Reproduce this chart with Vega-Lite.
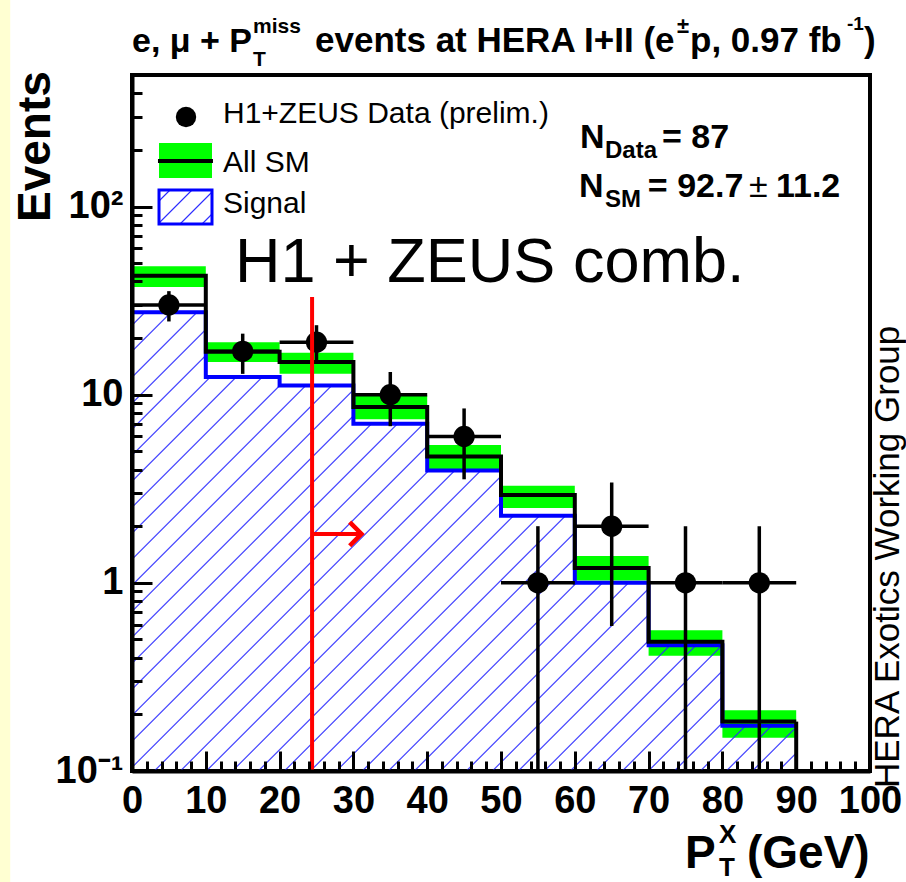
{
  "$schema": "https://vega.github.io/schema/vega-lite/v6.json",
  "width": 738,
  "height": 696,
  "autosize": {"type": "none"},
  "padding": {"left": 132, "top": 75, "right": 36, "bottom": 111},
  "background": "white",
  "config": {"view": {"stroke": "black", "strokeWidth": 4}, "font": "Liberation Sans"},
  "datasets": {
    "bins": [
      {"lo": 0, "hi": 10, "mid": 5, "data": 30, "dLo": 24.5, "dHi": 35.5, "sm": 42.8, "smLo": 37.3, "smHi": 48.2, "sig": 27.4},
      {"lo": 10, "hi": 20, "mid": 15, "data": 17, "dLo": 12.9, "dHi": 21.1, "sm": 16.9, "smLo": 14.9, "smHi": 19.0, "sig": 12.4},
      {"lo": 20, "hi": 30, "mid": 25, "data": 19, "dLo": 14.6, "dHi": 23.4, "sm": 14.9, "smLo": 12.9, "smHi": 16.7, "sig": 11.2},
      {"lo": 30, "hi": 40, "mid": 35, "data": 10, "dLo": 6.8, "dHi": 13.2, "sm": 8.6, "smLo": 7.4, "smHi": 9.9, "sig": 7.0},
      {"lo": 40, "hi": 50, "mid": 45, "data": 6, "dLo": 3.55, "dHi": 8.45, "sm": 4.7, "smLo": 4.03, "smHi": 5.4, "sig": 3.95},
      {"lo": 50, "hi": 60, "mid": 55, "data": 1, "dLo": 0.1, "dHi": 2, "sm": 2.93, "smLo": 2.5, "smHi": 3.28, "sig": 2.27},
      {"lo": 60, "hi": 70, "mid": 65, "data": 2, "dLo": 0.59, "dHi": 3.41, "sm": 1.2, "smLo": 1.03, "smHi": 1.39, "sig": 1.0},
      {"lo": 70, "hi": 80, "mid": 75, "data": 1, "dLo": 0.1, "dHi": 2, "sm": 0.487, "smLo": 0.41, "smHi": 0.56, "sig": 0.466},
      {"lo": 80, "hi": 90, "mid": 85, "data": 1, "dLo": 0.1, "dHi": 2, "sm": 0.183, "smLo": 0.15, "smHi": 0.21, "sig": 0.174}
    ]
  },
  "resolve": {"axis": {"x": "independent", "y": "independent"}},
  "layer": [
    {
      "data": {"values": [{}]},
      "mark": {"type": "rect", "fill": "#ffffd2", "clip": false},
      "encoding": {
        "x": {"datum": -17.9, "type": "quantitative", "scale": {"domain": [0, 100], "nice": false, "zero": false}, "axis": null},
        "x2": {"datum": -16.5},
        "y": {"datum": 1300, "type": "quantitative", "scale": {"type": "log", "domain": [0.1, 500], "nice": false}, "axis": null},
        "y2": {"datum": 0.02}
      }
    },
    {
      "data": {"name": "bins"},
      "mark": {"type": "rect", "fill": "#00ff00"},
      "encoding": {
        "x": {"field": "lo", "type": "quantitative", "scale": {"domain": [0, 100], "nice": false, "zero": false},
          "axis": {"orient": "bottom", "values": [0, 10, 20, 30, 40, 50, 60, 70, 80, 90, 100], "format": "d", "tickSize": -20, "tickWidth": 3, "tickColor": "black", "domain": true, "domainWidth": 4, "domainColor": "black", "labelFont": "Liberation Sans", "labelFontWeight": "bold", "labelFontSize": 38, "labelColor": "black", "labelPadding": 31, "labelOverlap": false, "labelFlush": false, "labelBound": false, "grid": false, "title": null, "zindex": 1}},
        "x2": {"field": "hi"},
        "y": {"field": "smLo", "type": "quantitative", "scale": {"type": "log", "domain": [0.1, 500], "nice": false},
          "axis": {"orient": "left", "values": [0.1, 1, 10, 100], "labelExpr": "datum.value < 0.5 ? '10⁻¹' : datum.value < 5 ? '1' : datum.value < 50 ? '10' : '10²'", "tickSize": -20, "tickWidth": 3, "tickColor": "black", "domain": true, "domainWidth": 4, "domainColor": "black", "labelFont": "Liberation Sans", "labelFontWeight": "bold", "labelFontSize": 38, "labelColor": "black", "labelPadding": 29, "labelOverlap": false, "labelFlush": false, "labelBound": false, "grid": false, "title": null, "zindex": 1}},
        "y2": {"field": "smHi"}
      }
    },
    {
      "data": {"name": "bins"},
      "transform": [{"fold": ["lo", "hi"], "as": ["edge", "ex"]}],
      "mark": {"type": "area", "interpolate": "linear", "clip": true,
        "fill": {"gradient": "linear", "x1": 0, "y1": 0, "x2": 1.15, "y2": 0.794, "stops": [
          {"offset": 0.0101, "color": "rgba(40,40,255,0)"}, {"offset": 0.0115, "color": "#2828ff"}, {"offset": 0.0129, "color": "rgba(40,40,255,0)"},
          {"offset": 0.0332, "color": "rgba(40,40,255,0)"}, {"offset": 0.0346, "color": "#2828ff"}, {"offset": 0.0360, "color": "rgba(40,40,255,0)"},
          {"offset": 0.0562, "color": "rgba(40,40,255,0)"}, {"offset": 0.0576, "color": "#2828ff"}, {"offset": 0.0590, "color": "rgba(40,40,255,0)"},
          {"offset": 0.0793, "color": "rgba(40,40,255,0)"}, {"offset": 0.0807, "color": "#2828ff"}, {"offset": 0.0821, "color": "rgba(40,40,255,0)"},
          {"offset": 0.1023, "color": "rgba(40,40,255,0)"}, {"offset": 0.1037, "color": "#2828ff"}, {"offset": 0.1051, "color": "rgba(40,40,255,0)"},
          {"offset": 0.1254, "color": "rgba(40,40,255,0)"}, {"offset": 0.1268, "color": "#2828ff"}, {"offset": 0.1282, "color": "rgba(40,40,255,0)"},
          {"offset": 0.1484, "color": "rgba(40,40,255,0)"}, {"offset": 0.1498, "color": "#2828ff"}, {"offset": 0.1512, "color": "rgba(40,40,255,0)"},
          {"offset": 0.1715, "color": "rgba(40,40,255,0)"}, {"offset": 0.1729, "color": "#2828ff"}, {"offset": 0.1743, "color": "rgba(40,40,255,0)"},
          {"offset": 0.1945, "color": "rgba(40,40,255,0)"}, {"offset": 0.1959, "color": "#2828ff"}, {"offset": 0.1973, "color": "rgba(40,40,255,0)"},
          {"offset": 0.2176, "color": "rgba(40,40,255,0)"}, {"offset": 0.2190, "color": "#2828ff"}, {"offset": 0.2204, "color": "rgba(40,40,255,0)"},
          {"offset": 0.2406, "color": "rgba(40,40,255,0)"}, {"offset": 0.2420, "color": "#2828ff"}, {"offset": 0.2434, "color": "rgba(40,40,255,0)"},
          {"offset": 0.2637, "color": "rgba(40,40,255,0)"}, {"offset": 0.2651, "color": "#2828ff"}, {"offset": 0.2665, "color": "rgba(40,40,255,0)"},
          {"offset": 0.2867, "color": "rgba(40,40,255,0)"}, {"offset": 0.2881, "color": "#2828ff"}, {"offset": 0.2895, "color": "rgba(40,40,255,0)"},
          {"offset": 0.3098, "color": "rgba(40,40,255,0)"}, {"offset": 0.3112, "color": "#2828ff"}, {"offset": 0.3126, "color": "rgba(40,40,255,0)"},
          {"offset": 0.3328, "color": "rgba(40,40,255,0)"}, {"offset": 0.3342, "color": "#2828ff"}, {"offset": 0.3356, "color": "rgba(40,40,255,0)"},
          {"offset": 0.3559, "color": "rgba(40,40,255,0)"}, {"offset": 0.3573, "color": "#2828ff"}, {"offset": 0.3587, "color": "rgba(40,40,255,0)"},
          {"offset": 0.3789, "color": "rgba(40,40,255,0)"}, {"offset": 0.3803, "color": "#2828ff"}, {"offset": 0.3817, "color": "rgba(40,40,255,0)"},
          {"offset": 0.4020, "color": "rgba(40,40,255,0)"}, {"offset": 0.4034, "color": "#2828ff"}, {"offset": 0.4048, "color": "rgba(40,40,255,0)"},
          {"offset": 0.4250, "color": "rgba(40,40,255,0)"}, {"offset": 0.4264, "color": "#2828ff"}, {"offset": 0.4278, "color": "rgba(40,40,255,0)"},
          {"offset": 0.4481, "color": "rgba(40,40,255,0)"}, {"offset": 0.4495, "color": "#2828ff"}, {"offset": 0.4509, "color": "rgba(40,40,255,0)"},
          {"offset": 0.4711, "color": "rgba(40,40,255,0)"}, {"offset": 0.4725, "color": "#2828ff"}, {"offset": 0.4739, "color": "rgba(40,40,255,0)"},
          {"offset": 0.4942, "color": "rgba(40,40,255,0)"}, {"offset": 0.4956, "color": "#2828ff"}, {"offset": 0.4970, "color": "rgba(40,40,255,0)"},
          {"offset": 0.5172, "color": "rgba(40,40,255,0)"}, {"offset": 0.5186, "color": "#2828ff"}, {"offset": 0.5200, "color": "rgba(40,40,255,0)"},
          {"offset": 0.5403, "color": "rgba(40,40,255,0)"}, {"offset": 0.5417, "color": "#2828ff"}, {"offset": 0.5431, "color": "rgba(40,40,255,0)"},
          {"offset": 0.5633, "color": "rgba(40,40,255,0)"}, {"offset": 0.5647, "color": "#2828ff"}, {"offset": 0.5661, "color": "rgba(40,40,255,0)"},
          {"offset": 0.5864, "color": "rgba(40,40,255,0)"}, {"offset": 0.5878, "color": "#2828ff"}, {"offset": 0.5892, "color": "rgba(40,40,255,0)"},
          {"offset": 0.6094, "color": "rgba(40,40,255,0)"}, {"offset": 0.6108, "color": "#2828ff"}, {"offset": 0.6122, "color": "rgba(40,40,255,0)"},
          {"offset": 0.6325, "color": "rgba(40,40,255,0)"}, {"offset": 0.6339, "color": "#2828ff"}, {"offset": 0.6353, "color": "rgba(40,40,255,0)"},
          {"offset": 0.6555, "color": "rgba(40,40,255,0)"}, {"offset": 0.6569, "color": "#2828ff"}, {"offset": 0.6583, "color": "rgba(40,40,255,0)"},
          {"offset": 0.6786, "color": "rgba(40,40,255,0)"}, {"offset": 0.6800, "color": "#2828ff"}, {"offset": 0.6814, "color": "rgba(40,40,255,0)"},
          {"offset": 0.7016, "color": "rgba(40,40,255,0)"}, {"offset": 0.7030, "color": "#2828ff"}, {"offset": 0.7044, "color": "rgba(40,40,255,0)"},
          {"offset": 0.7247, "color": "rgba(40,40,255,0)"}, {"offset": 0.7261, "color": "#2828ff"}, {"offset": 0.7275, "color": "rgba(40,40,255,0)"},
          {"offset": 0.7477, "color": "rgba(40,40,255,0)"}, {"offset": 0.7491, "color": "#2828ff"}, {"offset": 0.7505, "color": "rgba(40,40,255,0)"},
          {"offset": 0.7708, "color": "rgba(40,40,255,0)"}, {"offset": 0.7722, "color": "#2828ff"}, {"offset": 0.7736, "color": "rgba(40,40,255,0)"},
          {"offset": 0.7938, "color": "rgba(40,40,255,0)"}, {"offset": 0.7952, "color": "#2828ff"}, {"offset": 0.7966, "color": "rgba(40,40,255,0)"},
          {"offset": 0.8169, "color": "rgba(40,40,255,0)"}, {"offset": 0.8183, "color": "#2828ff"}, {"offset": 0.8197, "color": "rgba(40,40,255,0)"},
          {"offset": 0.8399, "color": "rgba(40,40,255,0)"}, {"offset": 0.8413, "color": "#2828ff"}, {"offset": 0.8427, "color": "rgba(40,40,255,0)"},
          {"offset": 0.8630, "color": "rgba(40,40,255,0)"}, {"offset": 0.8644, "color": "#2828ff"}, {"offset": 0.8658, "color": "rgba(40,40,255,0)"},
          {"offset": 0.8860, "color": "rgba(40,40,255,0)"}, {"offset": 0.8874, "color": "#2828ff"}, {"offset": 0.8888, "color": "rgba(40,40,255,0)"},
          {"offset": 0.9091, "color": "rgba(40,40,255,0)"}, {"offset": 0.9105, "color": "#2828ff"}, {"offset": 0.9119, "color": "rgba(40,40,255,0)"},
          {"offset": 0.9321, "color": "rgba(40,40,255,0)"}, {"offset": 0.9335, "color": "#2828ff"}, {"offset": 0.9349, "color": "rgba(40,40,255,0)"},
          {"offset": 0.9552, "color": "rgba(40,40,255,0)"}, {"offset": 0.9566, "color": "#2828ff"}, {"offset": 0.9580, "color": "rgba(40,40,255,0)"},
          {"offset": 0.9782, "color": "rgba(40,40,255,0)"}, {"offset": 0.9796, "color": "#2828ff"}, {"offset": 0.9810, "color": "rgba(40,40,255,0)"}
        ]}},
      "encoding": {
        "x": {"field": "ex", "type": "quantitative", "scale": {"domain": [0, 100], "nice": false, "zero": false},
          "axis": {"orient": "bottom", "values": [0, 2, 4, 6, 8, 10, 12, 14, 16, 18, 20, 22, 24, 26, 28, 30, 32, 34, 36, 38, 40, 42, 44, 46, 48, 50, 52, 54, 56, 58, 60, 62, 64, 66, 68, 70, 72, 74, 76, 78, 80, 82, 84, 86, 88, 90, 92, 94, 96, 98, 100], "tickSize": -10, "tickWidth": 3, "tickColor": "black", "labels": false, "domain": false, "grid": false, "title": null, "zindex": 1}},
        "y": {"field": "sig", "type": "quantitative", "stack": null, "scale": {"type": "log", "domain": [0.1, 500], "nice": false},
          "axis": {"orient": "left", "values": [0.1, 0.2, 0.3, 0.4, 0.5, 0.6, 0.7, 0.8, 0.9, 1, 2, 3, 4, 5, 6, 7, 8, 9, 10, 20, 30, 40, 50, 60, 70, 80, 90, 100, 200, 300, 400], "tickSize": -10, "tickWidth": 3, "tickColor": "black", "labels": false, "domain": false, "grid": false, "title": null, "zindex": 1}},
        "y2": {"datum": 0.1}
      }
    },
    {
      "data": {"name": "bins"},
      "transform": [{"fold": ["lo", "hi"], "as": ["edge", "ex"]}],
      "mark": {"type": "line", "interpolate": "linear", "stroke": "#0000ff", "strokeWidth": 4, "strokeJoin": "miter", "clip": true},
      "encoding": {
        "x": {"field": "ex", "type": "quantitative", "scale": {"domain": [0, 100], "nice": false, "zero": false}, "axis": null},
        "y": {"field": "sig", "type": "quantitative", "scale": {"type": "log", "domain": [0.1, 500], "nice": false}, "axis": null}
      }
    },
    {
      "data": {"name": "bins"},
      "transform": [{"fold": ["lo", "hi"], "as": ["edge", "ex"]}],
      "mark": {"type": "line", "interpolate": "linear", "stroke": "black", "strokeWidth": 4, "strokeJoin": "miter", "clip": true},
      "encoding": {
        "x": {"field": "ex", "type": "quantitative", "scale": {"domain": [0, 100], "nice": false, "zero": false}, "axis": null},
        "y": {"field": "sm", "type": "quantitative", "scale": {"type": "log", "domain": [0.1, 500], "nice": false}, "axis": null}
      }
    },
    {
      "data": {"name": "bins"},
      "transform": [{"filter": "datum.hi == 90"}],
      "mark": {"type": "rule", "stroke": "black", "strokeWidth": 4, "clip": true},
      "encoding": {
        "x": {"field": "hi", "type": "quantitative", "scale": {"domain": [0, 100], "nice": false, "zero": false}, "axis": null},
        "y": {"field": "sm", "type": "quantitative", "scale": {"type": "log", "domain": [0.1, 500], "nice": false}, "axis": null},
        "y2": {"datum": 0.1}
      }
    },
    {
      "data": {"name": "bins"},
      "mark": {"type": "rule", "stroke": "black", "strokeWidth": 3.5, "clip": true},
      "encoding": {
        "x": {"field": "lo", "type": "quantitative", "scale": {"domain": [0, 100], "nice": false, "zero": false}, "axis": null},
        "x2": {"field": "hi"},
        "y": {"field": "data", "type": "quantitative", "scale": {"type": "log", "domain": [0.1, 500], "nice": false}, "axis": null}
      }
    },
    {
      "data": {"name": "bins"},
      "mark": {"type": "rule", "stroke": "black", "strokeWidth": 3.5, "clip": true},
      "encoding": {
        "x": {"field": "mid", "type": "quantitative", "scale": {"domain": [0, 100], "nice": false, "zero": false}, "axis": null},
        "y": {"field": "dLo", "type": "quantitative", "scale": {"type": "log", "domain": [0.1, 500], "nice": false}, "axis": null},
        "y2": {"field": "dHi"}
      }
    },
    {
      "data": {"name": "bins"},
      "mark": {"type": "point", "shape": "circle", "filled": true, "color": "black", "opacity": 1, "size": 452},
      "encoding": {
        "x": {"field": "mid", "type": "quantitative", "scale": {"domain": [0, 100], "nice": false, "zero": false}, "axis": null},
        "y": {"field": "data", "type": "quantitative", "scale": {"type": "log", "domain": [0.1, 500], "nice": false}, "axis": null}
      }
    },
    {
      "data": {"values": [{}]},
      "mark": {"type": "rule", "stroke": "#ff0000", "strokeWidth": 4},
      "encoding": {
        "x": {"datum": 24.4, "type": "quantitative", "scale": {"domain": [0, 100], "nice": false, "zero": false}, "axis": null},
        "y": {"datum": 0.1, "type": "quantitative", "scale": {"type": "log", "domain": [0.1, 500], "nice": false}, "axis": null},
        "y2": {"datum": 33}
      }
    },
    {
      "data": {"values": [{}]},
      "mark": {"type": "rule", "stroke": "#ff0000", "strokeWidth": 4},
      "encoding": {
        "x": {"datum": 24.4, "type": "quantitative", "scale": {"domain": [0, 100], "nice": false, "zero": false}, "axis": null},
        "x2": {"datum": 31.0},
        "y": {"datum": 1.82, "type": "quantitative", "scale": {"type": "log", "domain": [0.1, 500], "nice": false}, "axis": null}
      }
    },
    {
      "data": {"values": [{}]},
      "mark": {"type": "point", "shape": "M-1,-1L0,0L-1,1", "filled": false, "stroke": "#ff0000", "strokeWidth": 4.5, "opacity": 1, "size": 560, "strokeJoin": "miter"},
      "encoding": {
        "x": {"datum": 31.1, "type": "quantitative", "scale": {"domain": [0, 100], "nice": false, "zero": false}, "axis": null},
        "y": {"datum": 1.82, "type": "quantitative", "scale": {"type": "log", "domain": [0.1, 500], "nice": false}, "axis": null}
      }
    },
    {
      "data": {"values": [{}]},
      "mark": {"type": "rect", "fill": "#00ff00"},
      "encoding": {
        "x": {"datum": 3.66, "type": "quantitative", "scale": {"domain": [0, 100], "nice": false, "zero": false}, "axis": null},
        "x2": {"datum": 10.84},
        "y": {"datum": 217.6, "type": "quantitative", "scale": {"type": "log", "domain": [0.1, 500], "nice": false}, "axis": null},
        "y2": {"datum": 141.8}
      }
    },
    {
      "data": {"values": [{}]},
      "mark": {"type": "rule", "stroke": "black", "strokeWidth": 4},
      "encoding": {
        "x": {"datum": 3.52, "type": "quantitative", "scale": {"domain": [0, 100], "nice": false, "zero": false}, "axis": null},
        "x2": {"datum": 10.97},
        "y": {"datum": 174.5, "type": "quantitative", "scale": {"type": "log", "domain": [0.1, 500], "nice": false}, "axis": null}
      }
    },
    {
      "data": {"values": [{}]},
      "mark": {"type": "rect", "stroke": "#0000ff", "strokeWidth": 3,
        "fill": {"gradient": "linear", "x1": 0, "y1": 0, "x2": 1.17, "y2": 0.7506, "stops": [
          {"offset": 0.1074, "color": "rgba(40,40,255,0)"}, {"offset": 0.1257, "color": "#2828ff"}, {"offset": 0.1440, "color": "rgba(40,40,255,0)"},
          {"offset": 0.3588, "color": "rgba(40,40,255,0)"}, {"offset": 0.3771, "color": "#2828ff"}, {"offset": 0.3954, "color": "rgba(40,40,255,0)"},
          {"offset": 0.6103, "color": "rgba(40,40,255,0)"}, {"offset": 0.6286, "color": "#2828ff"}, {"offset": 0.6469, "color": "rgba(40,40,255,0)"},
          {"offset": 0.8617, "color": "rgba(40,40,255,0)"}, {"offset": 0.8800, "color": "#2828ff"}, {"offset": 0.8983, "color": "rgba(40,40,255,0)"}
        ]}},
      "encoding": {
        "x": {"datum": 3.66, "type": "quantitative", "scale": {"domain": [0, 100], "nice": false, "zero": false}, "axis": null},
        "x2": {"datum": 10.84},
        "y": {"datum": 122.4, "type": "quantitative", "scale": {"type": "log", "domain": [0.1, 500], "nice": false}, "axis": null},
        "y2": {"datum": 80.7}
      }
    },
    {
      "data": {"values": [{}]},
      "mark": {"type": "point", "shape": "circle", "filled": true, "color": "black", "opacity": 1, "size": 415},
      "encoding": {
        "x": {"datum": 7.32, "type": "quantitative", "scale": {"domain": [0, 100], "nice": false, "zero": false}, "axis": null},
        "y": {"datum": 299.1, "type": "quantitative", "scale": {"type": "log", "domain": [0.1, 500], "nice": false}, "axis": null}
      }
    },
    {
      "data": {"values": [
        {"t": "H1+ZEUS Data (prelim.)", "px": 12.33, "py": 276.9},
        {"t": "All SM", "px": 12.33, "py": 153.1},
        {"t": "Signal", "px": 12.33, "py": 92.0}
      ]},
      "mark": {"type": "text", "font": "Liberation Sans", "fontSize": 30, "align": "left", "baseline": "alphabetic", "color": "black"},
      "encoding": {
        "text": {"field": "t"},
        "x": {"field": "px", "type": "quantitative", "scale": {"domain": [0, 100], "nice": false, "zero": false}, "axis": null},
        "y": {"field": "py", "type": "quantitative", "scale": {"type": "log", "domain": [0.1, 500], "nice": false}, "axis": null}
      }
    },
    {
      "data": {"values": [
        {"t": "N", "px": 60.70, "py": 204.6, "fs": 34},
        {"t": "Data", "px": 64.09, "py": 181.1, "fs": 24},
        {"t": "= 87", "px": 71.82, "py": 204.6, "fs": 34},
        {"t": "N", "px": 60.57, "py": 112.3, "fs": 34},
        {"t": "SM", "px": 64.09, "py": 99.4, "fs": 24},
        {"t": "= 92.7", "px": 69.9, "py": 112.3, "fs": 34},
        {"t": "11.2", "px": 87.26, "py": 112.3, "fs": 34}
      ]},
      "mark": {"type": "text", "font": "Liberation Sans", "fontWeight": "bold", "align": "left", "baseline": "alphabetic", "color": "black"},
      "encoding": {
        "text": {"field": "t"},
        "size": {"field": "fs", "type": "quantitative", "scale": null},
        "x": {"field": "px", "type": "quantitative", "scale": {"domain": [0, 100], "nice": false, "zero": false}, "axis": null},
        "y": {"field": "py", "type": "quantitative", "scale": {"type": "log", "domain": [0.1, 500], "nice": false}, "axis": null}
      }
    },
    {
      "data": {"values": [{}]},
      "mark": {"type": "text", "text": "±", "font": "Liberation Sans", "fontSize": 34, "align": "left", "baseline": "alphabetic", "color": "black"},
      "encoding": {
        "x": {"datum": 83.6, "type": "quantitative", "scale": {"domain": [0, 100], "nice": false, "zero": false}, "axis": null},
        "y": {"datum": 112.3, "type": "quantitative", "scale": {"type": "log", "domain": [0.1, 500], "nice": false}, "axis": null}
      }
    },
    {
      "data": {"values": [{}]},
      "mark": {"type": "text", "text": "H1 + ZEUS comb.", "font": "Liberation Sans", "fontSize": 63, "align": "left", "baseline": "alphabetic", "color": "black"},
      "encoding": {
        "x": {"datum": 13.96, "type": "quantitative", "scale": {"domain": [0, 100], "nice": false, "zero": false}, "axis": null},
        "y": {"datum": 39.7, "type": "quantitative", "scale": {"type": "log", "domain": [0.1, 500], "nice": false}, "axis": null}
      }
    },
    {
      "data": {"values": [
        {"t": "e, μ + P", "px": 0.0, "py": 662.6, "fs": 34},
        {"t": "miss", "px": 16.40, "py": 835.9, "fs": 21},
        {"t": "T", "px": 16.40, "py": 558.2, "fs": 21},
        {"t": "events at HERA I+II (e", "px": 24.80, "py": 662.6, "fs": 35},
        {"t": "±", "px": 73.85, "py": 835.9, "fs": 22},
        {"t": "p, 0.97 fb", "px": 75.61, "py": 662.6, "fs": 35},
        {"t": "-1", "px": 96.88, "py": 867.2, "fs": 19},
        {"t": ")", "px": 99.19, "py": 662.6, "fs": 35}
      ]},
      "mark": {"type": "text", "font": "Liberation Sans", "fontWeight": "bold", "align": "left", "baseline": "alphabetic", "color": "black", "clip": false},
      "encoding": {
        "text": {"field": "t"},
        "size": {"field": "fs", "type": "quantitative", "scale": null},
        "x": {"field": "px", "type": "quantitative", "scale": {"domain": [0, 100], "nice": false, "zero": false}, "axis": null},
        "y": {"field": "py", "type": "quantitative", "scale": {"type": "log", "domain": [0.1, 500], "nice": false}, "axis": null}
      }
    },
    {
      "data": {"values": [
        {"t": "P", "px": 74.93, "py": 0.03051, "fs": 46},
        {"t": "X", "px": 79.54, "py": 0.04145, "fs": 26},
        {"t": "T", "px": 79.54, "py": 0.02767, "fs": 26},
        {"t": "(GeV)", "px": 83.33, "py": 0.03051, "fs": 46}
      ]},
      "mark": {"type": "text", "font": "Liberation Sans", "fontWeight": "bold", "align": "left", "baseline": "alphabetic", "color": "black", "clip": false},
      "encoding": {
        "text": {"field": "t"},
        "size": {"field": "fs", "type": "quantitative", "scale": null},
        "x": {"field": "px", "type": "quantitative", "scale": {"domain": [0, 100], "nice": false, "zero": false}, "axis": null},
        "y": {"field": "py", "type": "quantitative", "scale": {"type": "log", "domain": [0.1, 500], "nice": false}, "axis": null}
      }
    },
    {
      "data": {"values": [{}]},
      "mark": {"type": "text", "text": "Events", "font": "Liberation Sans", "fontWeight": "bold", "fontSize": 46, "angle": 270, "align": "left", "baseline": "alphabetic", "color": "black", "clip": false},
      "encoding": {
        "x": {"datum": -11.11, "type": "quantitative", "scale": {"domain": [0, 100], "nice": false, "zero": false}, "axis": null},
        "y": {"datum": 82.76, "type": "quantitative", "scale": {"type": "log", "domain": [0.1, 500], "nice": false}, "axis": null}
      }
    },
    {
      "data": {"values": [{}]},
      "mark": {"type": "text", "text": "HERA Exotics Working Group", "font": "Liberation Sans", "fontSize": 35, "angle": 270, "align": "left", "baseline": "alphabetic", "color": "black", "clip": false},
      "encoding": {
        "x": {"datum": 103.93, "type": "quantitative", "scale": {"domain": [0, 100], "nice": false, "zero": false}, "axis": null},
        "y": {"datum": 0.0812, "type": "quantitative", "scale": {"type": "log", "domain": [0.1, 500], "nice": false}, "axis": null}
      }
    }
  ]
}
